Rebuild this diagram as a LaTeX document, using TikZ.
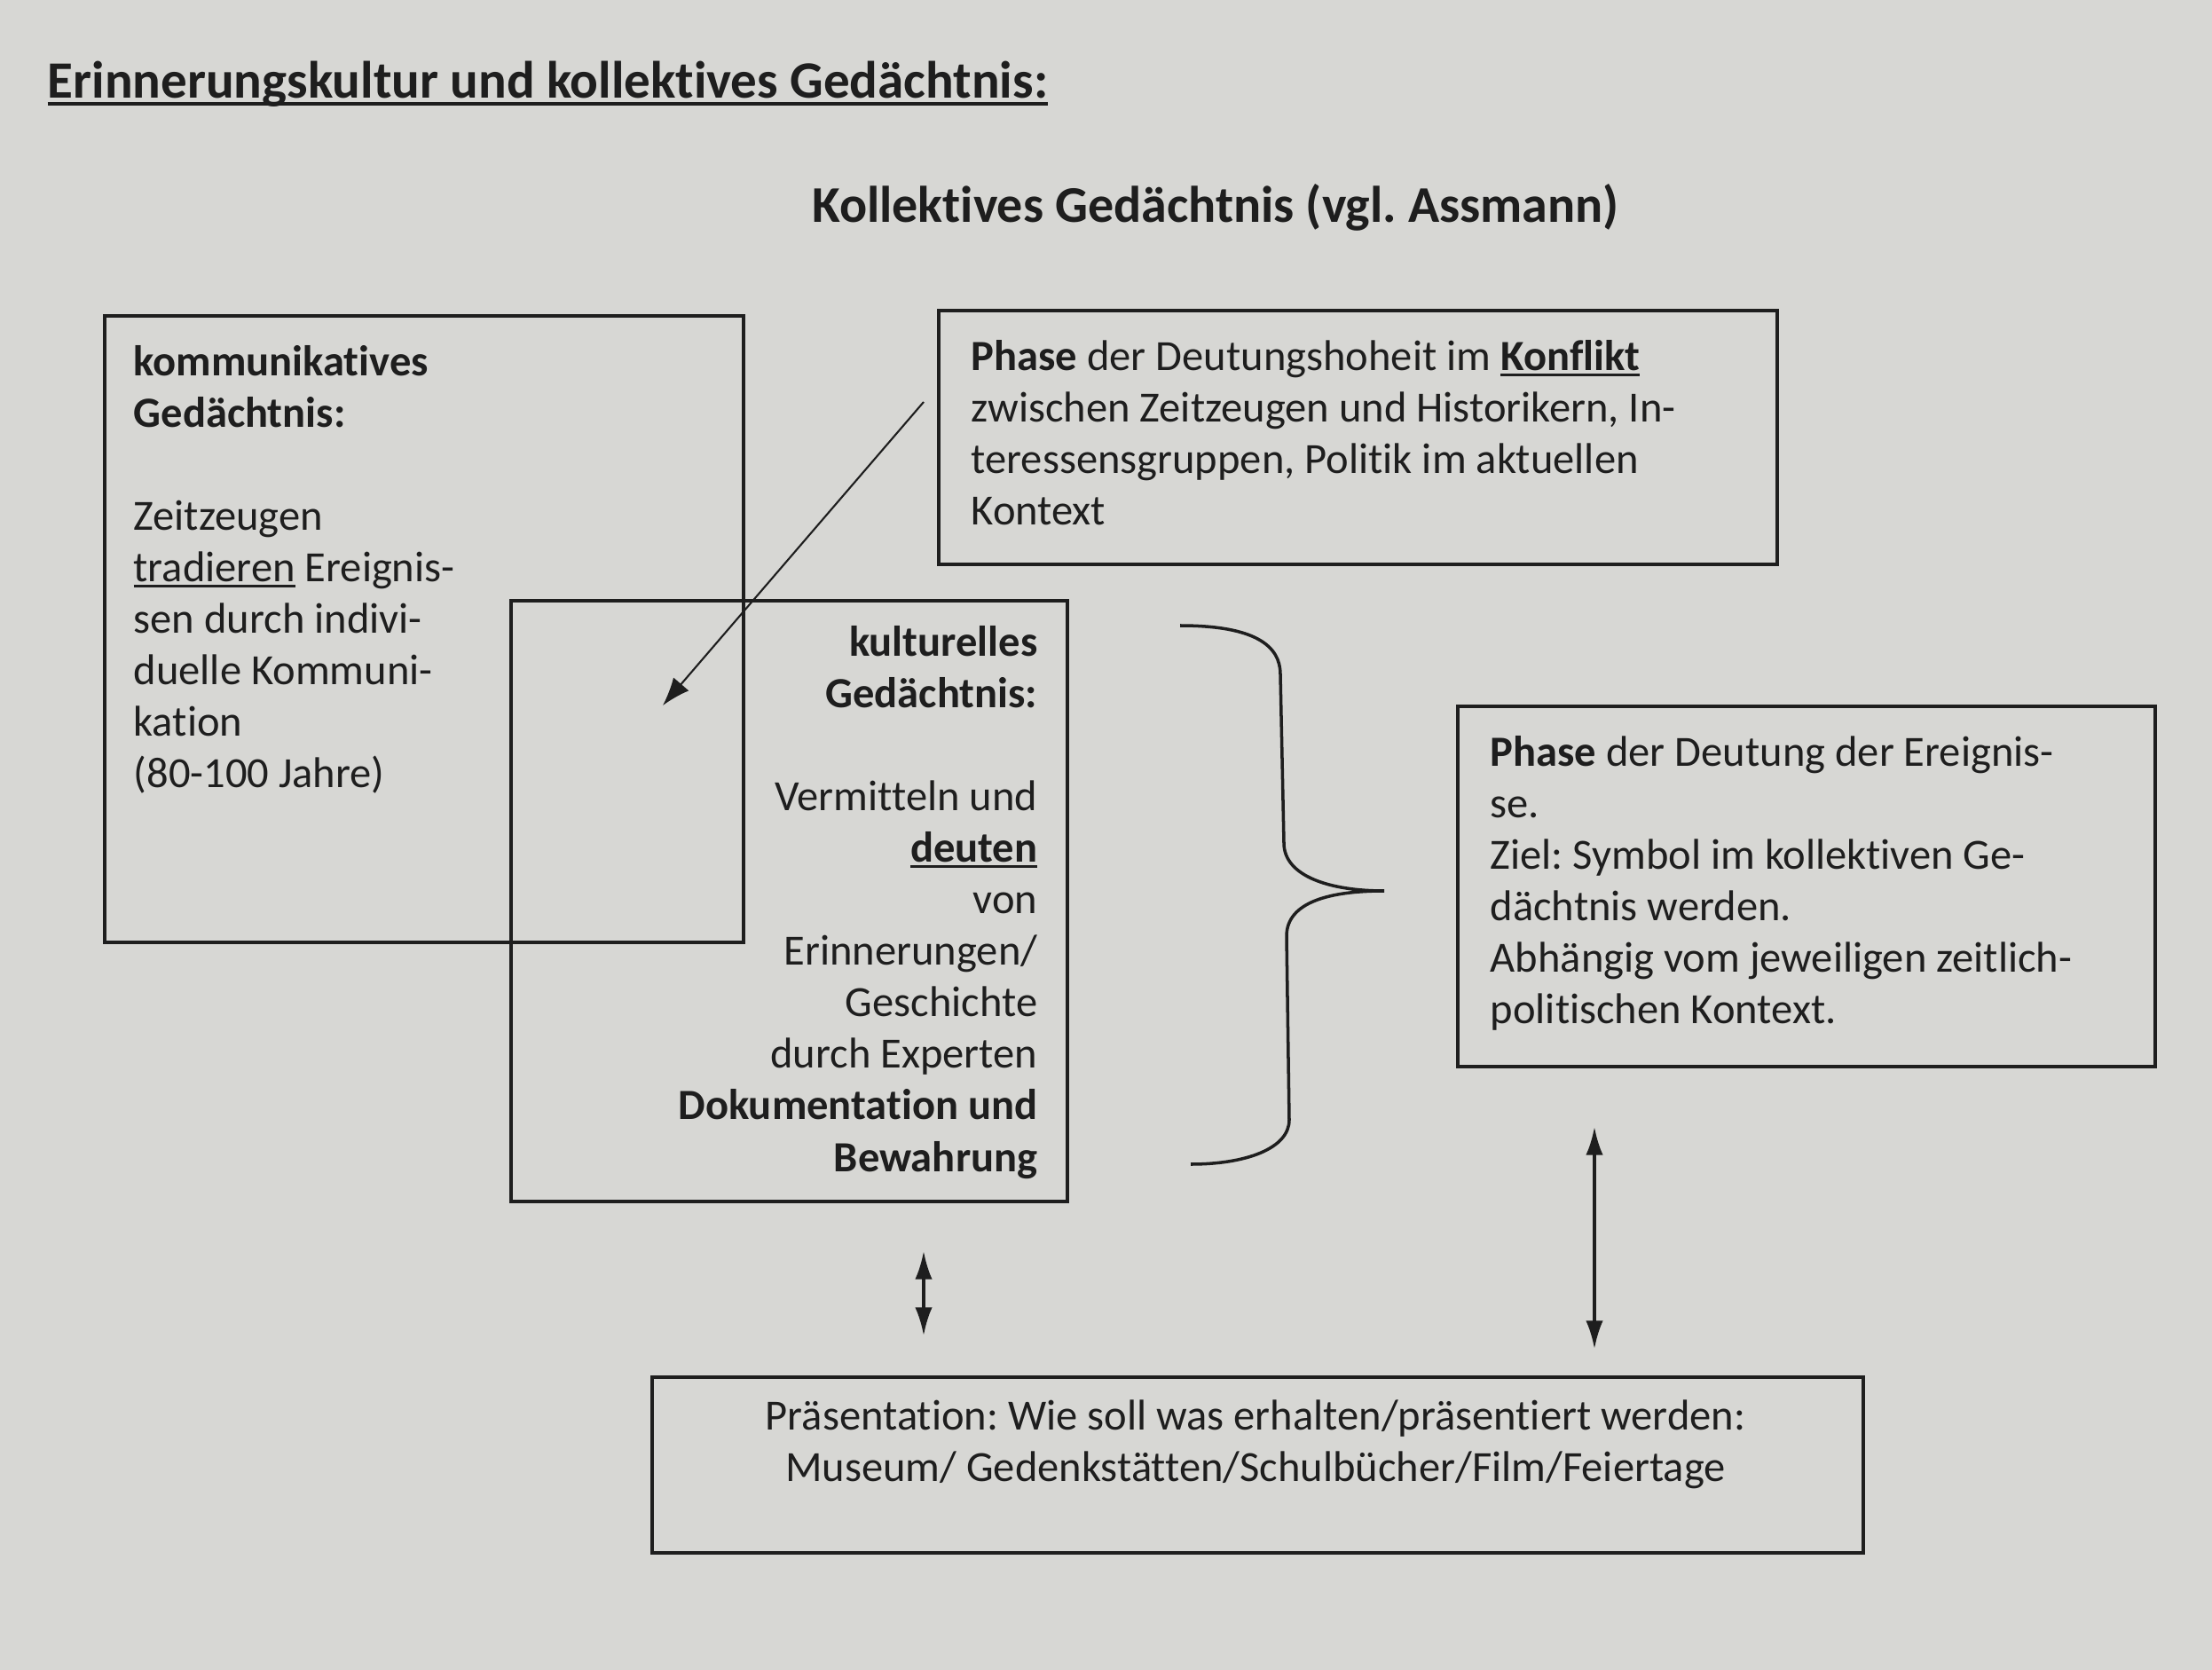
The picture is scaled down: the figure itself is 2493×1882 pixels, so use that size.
\documentclass[tikz,border=0pt]{standalone}
\usepackage{fontspec}
\setmainfont{Carlito}[Ligatures=NoCommon]
\usetikzlibrary{arrows.meta,calc,fit}
\definecolor{papier}{RGB}{215,215,212}
\definecolor{tinte}{RGB}{30,30,30}
\newcommand{\ustrich}[1]{\leavevmode\setbox0\hbox{#1}\rlap{\rule[-0.13em]{\wd0}{0.07em}}\box0\relax}
\frenchspacing
\tikzset{
  kasten/.style={draw=tinte, line width=1.1pt, rectangle, inner sep=0pt},
  inhalt/.style={inner sep=0pt, text=tinte, font=\fontsize{13.8}{16.5}\selectfont},
  doppelpfeil/.style={draw=tinte, line width=1pt, {Latex[length=9pt,width=5.5pt]}-{Latex[length=9pt,width=5.5pt]}},
  deutpfeil/.style={draw=tinte, line width=0.6pt, -{Latex[length=9pt,width=6.5pt]}}
}
\begin{document}
\begin{tikzpicture}[x=0.01cm,y=-0.01cm]
  \fill[papier] (0,0) rectangle (2493,1882);
  % Ueberschriften
  \node[inhalt, anchor=base west, font=\bfseries\fontsize{16.8}{19}\selectfont] (titel) at (53,111)
    {\ustrich{Erinnerungskultur und kollektives Gedächtnis:}};
  \node[inhalt, anchor=base, font=\bfseries\fontsize{16.5}{19}\selectfont] (untertitel) at (1370,251)
    {Kollektives Gedächtnis (vgl. Assmann)};
  % Kaesten
  \node[kasten, fit={(118,356) (838,1062)}] (kommunikativ) {};
  \node[kasten, fit={(576,677) (1203,1354)}] (kulturell) {};
  \node[kasten, fit={(1058,350) (2003,636)}] (deutungshoheit) {};
  \node[kasten, fit={(1643,796) (2429,1202)}] (deutung) {};
  \node[kasten, fit={(735,1552) (2100,1750)}] (praesentation) {};
  % Texte
  \node[inhalt, anchor=north west, align=left] (kommText) at (150,389) {
    \textbf{kommunikatives}\\
    \textbf{Gedächtnis:}\\
    \mbox{}\\
    Zeitzeugen\\
    \ustrich{tradieren} Ereignis-\\
    sen durch indivi-\\
    duelle Kommuni-\\
    kation\\
    (80-100 Jahre)};
  \node[inhalt, anchor=north east, align=right] (kultText) at (1170,705) {
    \textbf{kulturelles}\\
    \textbf{Gedächtnis:}\\
    \mbox{}\\
    Vermitteln und\\
    \textbf{\ustrich{deuten}}\\
    von\\
    Erinnerungen/\\
    Geschichte\\
    durch Experten\\
    \textbf{Dokumentation und}\\
    \textbf{Bewahrung}};
  \node[inhalt, anchor=north west, align=left] (hoheitText) at (1094,383) {
    \textbf{Phase} der Deutungshoheit im \textbf{\ustrich{Konflikt}}\\
    zwischen Zeitzeugen und Historikern, In-\\
    teressensgruppen, Politik im aktuellen\\
    Kontext};
  \node[inhalt, anchor=north west, align=left] (deutText) at (1679,829) {
    \textbf{Phase} der Deutung der Ereignis-\\
    se.\\
    Ziel: Symbol im kollektiven Ge-\\
    dächtnis werden.\\
    Abhängig vom jeweiligen zeitlich-\\
    politischen Kontext.};
  \node[inhalt, anchor=north, align=center] (praesText) at (1415,1577) {
    Präsentation: Wie soll was erhalten/präsentiert werden:\\
    Museum/ Gedenkstätten/Schulbücher/Film/Feiertage};
  % Verbindungen
  \coordinate (konfliktStart) at (1041,453);
  \coordinate (konfliktZiel) at (747,795);
  \draw[deutpfeil] (konfliktStart) -- (konfliktZiel);
  \coordinate (linksOben) at (1041,1410);
  \coordinate (linksUnten) at (1041,1505);
  \draw[doppelpfeil] (linksOben) -- (linksUnten);
  \coordinate (rechtsOben) at (1797,1270);
  \coordinate (rechtsUnten) at (1797,1520);
  \draw[doppelpfeil] (rechtsOben) -- (rechtsUnten);
  % geschweifte Klammer
  \coordinate (klammerSpitze) at (1560,1004);
  \draw[tinte, line width=1pt] (1330,705) .. controls (1415,705) and (1443,728) .. (1443,760)
    -- (1447,950) .. controls (1447,988) and (1500,1004) .. (klammerSpitze)
    .. controls (1500,1004) and (1450,1016) .. (1450,1055)
    -- (1453,1262) .. controls (1453,1294) and (1405,1312) .. (1342,1312);
\end{tikzpicture}
\end{document}
